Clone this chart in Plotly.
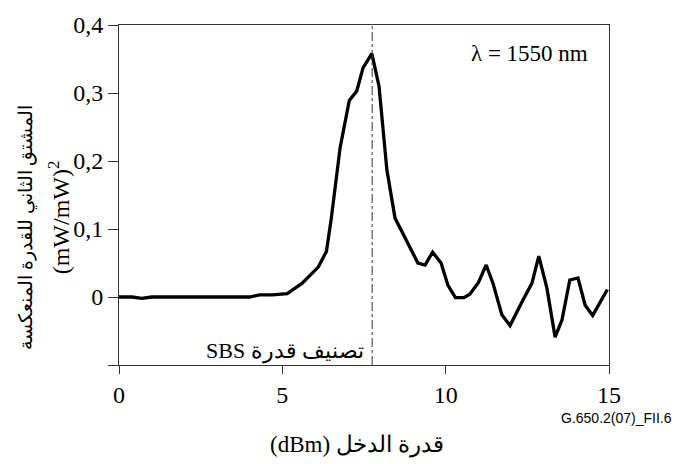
import plotly.graph_objects as go

# Data
input_power_dbm = [0, 0.4, 0.7, 1.0, 2.0, 3.0, 4.0, 4.3, 4.7, 5.15, 5.6, 6.1, 6.35, 6.5,
                   6.77, 7.05, 7.28, 7.47, 7.74, 7.96, 8.2, 8.45, 8.9, 9.15, 9.37, 9.6,
                   9.86, 10.07, 10.3, 10.56, 10.74, 11.0, 11.24, 11.45, 11.72, 11.97,
                   12.37, 12.64, 12.85, 13.1, 13.35, 13.56, 13.8, 14.05, 14.27, 14.5, 14.95]
second_derivative = [0, 0, -0.002, 0, 0, 0, 0, 0.003, 0.003, 0.005, 0.02, 0.044, 0.067, 0.116,
                     0.22, 0.289, 0.303, 0.337, 0.358, 0.31, 0.187, 0.116, 0.073, 0.05, 0.047, 0.066,
                     0.05, 0.017, -0.001, -0.001, 0.004, 0.021, 0.047, 0.02, -0.026, -0.042,
                     -0.004, 0.02, 0.06, 0.013, -0.059, -0.034, 0.025, 0.028, -0.012, -0.027, 0.011]
sbs_threshold = 7.75

x_tickvals = [0, 5, 10, 15]
x_ticktext = ["0", "5", "10", "15"]
y_tickvals = [0, 0.1, 0.2, 0.3, 0.4]
y_ticktext = ["0", "0,1", "0,2", "0,3", "0,4"]
y_minor_tick = -0.1

SERIF = "Liberation Serif"

fig = go.Figure()
fig.add_trace(go.Scatter(x=input_power_dbm, y=second_derivative, mode="lines",
                         line=dict(color="black", width=3.3), showlegend=False))

fig.add_shape(type="line", x0=sbs_threshold, x1=sbs_threshold, y0=-0.1, y1=0.4,
              xref="x", yref="y", line=dict(color="#333", width=1, dash="dashdot"))

axis_common = dict(showgrid=False, zeroline=False, showline=True, linecolor="#333",
                   linewidth=1, mirror=True, ticks="outside", tickcolor="#333", tickwidth=1,
                   tickfont=dict(family=SERIF, size=24, color="black"))

fig.update_xaxes(range=[0, 15], tickvals=x_tickvals, ticktext=x_ticktext, ticklen=8, **axis_common)
fig.update_yaxes(range=[-0.1, 0.4], tickvals=y_tickvals, ticktext=y_ticktext, ticklen=10,
                 minor=dict(tickvals=[y_minor_tick], ticks="outside", ticklen=10,
                            tickcolor="#333", tickwidth=1, showgrid=False),
                 **axis_common)

fig.add_annotation(x=sbs_threshold, y=-0.08, xref="x", yref="y", text="SBS تصنيف قدرة",
                   showarrow=False, xanchor="right", yanchor="middle", xshift=-6,
                   font=dict(family=SERIF, size=22, color="black"))
fig.add_annotation(x=0.961, y=0.915, xref="paper", yref="paper", text="λ = 1550 nm",
                   showarrow=False, xanchor="right", yanchor="middle",
                   font=dict(family=SERIF, size=23, color="black"))
fig.add_annotation(x=-0.19, y=0.406, xref="paper", yref="paper", text="المشتق الثاني للقدرة المنعكسة",
                   showarrow=False, textangle=-90, xanchor="center", yanchor="middle",
                   font=dict(family=SERIF, size=19, color="black"))
fig.add_annotation(x=-0.122, y=0.435, xref="paper", yref="paper", text="(mW/mW)<sup>2</sup>",
                   showarrow=False, textangle=-90, xanchor="center", yanchor="middle",
                   font=dict(family=SERIF, size=24, color="black"))
fig.add_annotation(x=0.486, y=-0.236, xref="paper", yref="paper", text="(dBm) قدرة الدخل",
                   showarrow=False, xanchor="center", yanchor="middle",
                   font=dict(family=SERIF, size=23, color="black"))
fig.add_annotation(x=1.133, y=-0.156, xref="paper", yref="paper", text="G.650.2(07)_FII.6",
                   showarrow=False, xanchor="right", yanchor="middle",
                   font=dict(family="Liberation Sans", size=14, color="black"))

fig.update_layout(width=677, height=464, margin=dict(l=119, r=68, t=13, b=99),
                  font=dict(family=SERIF, color="black"),
                  paper_bgcolor="white", plot_bgcolor="white")

fig.write_html("out.html")
